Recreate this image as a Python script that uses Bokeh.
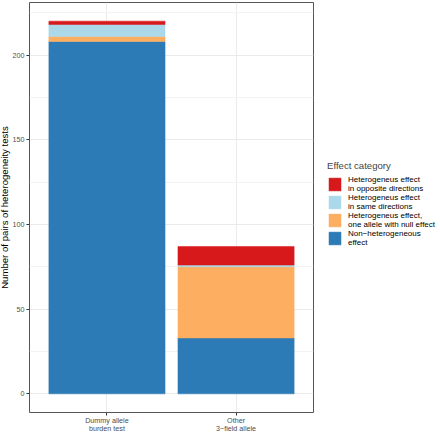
from bokeh.plotting import figure
from bokeh.models import ColumnDataSource, FactorRange, Range1d, Legend, LegendItem, FixedTicker
from bokeh.embed import file_html
from bokeh.resources import INLINE

categories = ["Dummy allele\nburden test", "Other\n3\u2212field allele"]
non_heterogeneous = [208, 33]
het_one_null = [3, 42]
het_same_dir = [7, 1]
het_opposite_dir = [2, 11]
series_keys = ["non", "null", "same", "opp"]
series_labels = [
    "Non\u2212heterogeneous\neffect",
    "Heterogeneus effect,\none allele with null effect",
    "Heterogeneus effect\nin same directions",
    "Heterogeneus effect\nin opposite directions",
]
colors = ["#2c7bb6", "#fdae61", "#abd9e9", "#d7191c"]
y_ticks = [0, 50, 100, 150, 200]
y_minor = [25, 75, 125, 175, 225]
legend_title = "Effect category"
y_title = "Number of pairs of heterogeneity tests"

FONT = "Liberation Sans"

source = ColumnDataSource(dict(
    cat=categories,
    non=non_heterogeneous,
    null=het_one_null,
    same=het_same_dir,
    opp=het_opposite_dir,
))

p = figure(
    x_range=FactorRange(factors=categories, range_padding=0.1),
    y_range=Range1d(-11, 231),
    frame_width=284, frame_height=410,
    min_border_left=30, min_border_top=2, min_border_bottom=19, min_border_right=120,
    output_backend="svg", toolbar_location=None,
)
p.styles = {"margin-left": "-5px"}

renderers = p.vbar_stack(series_keys, x="cat", width=0.9, source=source,
                         fill_color=colors, line_color=colors, line_width=0.5)

p.outline_line_color = "#555555"
p.outline_line_width = 1
p.background_fill_color = "white"
p.border_fill_color = "white"

p.xgrid.grid_line_color = "#ebebeb"
p.xgrid.grid_line_width = 1
p.ygrid.ticker = FixedTicker(ticks=y_ticks, minor_ticks=y_minor)
p.ygrid.grid_line_color = "#ebebeb"
p.ygrid.grid_line_width = 1
p.ygrid.minor_grid_line_color = "#f3f3f3"
p.ygrid.minor_grid_line_width = 1

p.yaxis.ticker = FixedTicker(ticks=y_ticks, minor_ticks=y_minor)
for ax in (p.xaxis[0], p.yaxis[0]):
    ax.axis_line_color = None
    ax.major_tick_line_color = "#333333"
    ax.major_tick_in = 0
    ax.major_tick_out = 3
    ax.minor_tick_line_color = None
    ax.major_label_text_font = FONT
    ax.major_label_text_font_size = "7.2px"
    ax.major_label_text_color = "#4d4d4d"
    ax.major_label_standoff = 1

p.xaxis.major_label_standoff = 0
p.xaxis.major_label_text_line_height = 0.9
p.yaxis.axis_label = y_title
p.yaxis.axis_label_text_font = FONT
p.yaxis.axis_label_text_font_size = "9.6px"
p.yaxis.axis_label_text_font_style = "normal"
p.yaxis.axis_label_text_color = "black"
p.yaxis.axis_label_standoff = 0

items = [LegendItem(label=series_labels[i], renderers=[renderers[i]]) for i in [3, 2, 1, 0]]
legend = Legend(
    items=items, title=legend_title, location=(14, 165),
    margin=0, padding=0, spacing=0,
    glyph_width=15, glyph_height=16, label_height=16, label_standoff=6,
    label_text_font=FONT, label_text_font_size="8px", label_text_line_height=0.95,
    label_text_color="black",
    title_text_font=FONT, title_text_font_size="9.6px", title_text_font_style="normal",
    title_standoff=4,
    border_line_color=None, background_fill_alpha=0,
)
p.add_layout(legend, "right")

open("out.html", "w").write(file_html(p, INLINE))
